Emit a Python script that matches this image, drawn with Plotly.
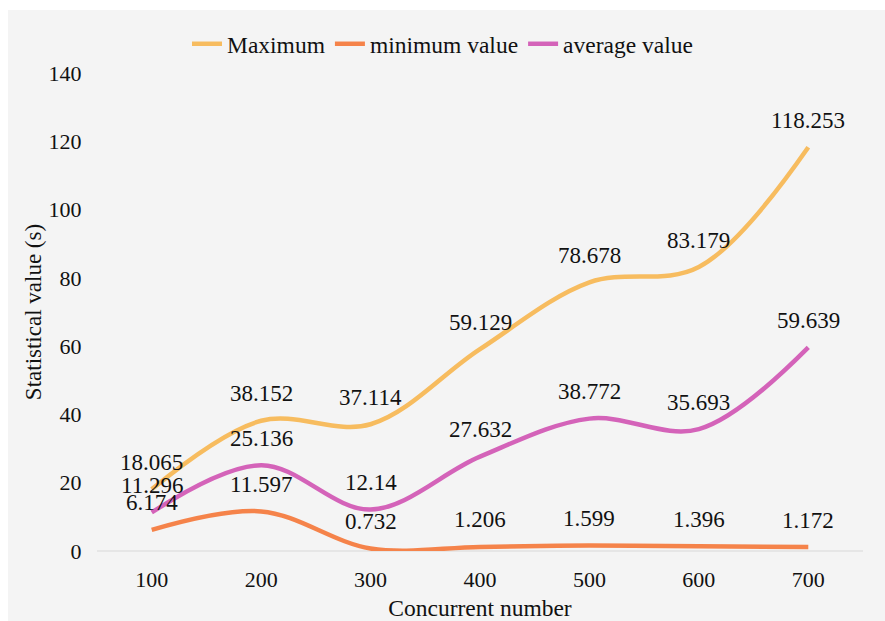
import plotly.graph_objects as go

categories = ["100", "200", "300", "400", "500", "600", "700"]
maximum = [18.065, 38.152, 37.114, 59.129, 78.678, 83.179, 118.253]
minimum = [6.174, 11.597, 0.732, 1.206, 1.599, 1.396, 1.172]
average = [11.296, 25.136, 12.14, 27.632, 38.772, 35.693, 59.639]

series = [
    ("Maximum", maximum, "#F7BC5F"),
    ("minimum value", minimum, "#F5834A"),
    ("average value", average, "#D463B9"),
]

FONT = "Liberation Serif"

fig = go.Figure()
for name, vals, color in series:
    fig.add_trace(go.Scatter(
        x=categories, y=vals, name=name, mode="lines",
        line=dict(color=color, width=4.5, shape="spline", smoothing=1.0),
    ))

annotations = []
for name, vals, color in series:
    for i, v in enumerate(vals):
        annotations.append(dict(
            x=i, y=v, xref="x", yref="y", text=f"{v:g}", showarrow=False, yshift=27,
            yanchor="middle", xanchor="center",
            font=dict(family=FONT, size=23, color="#111111"),
        ))

W, H = 885, 621
ml, mr, mt, mb = 97, 22, 73, 70
pw, ph = W - ml - mr, H - mt - mb

fig.update_layout(
    width=W, height=H,
    margin=dict(l=ml, r=mr, t=mt, b=mb, autoexpand=False),
    paper_bgcolor="white",
    plot_bgcolor="rgba(0,0,0,0)",
    font=dict(family=FONT, size=22, color="#111111"),
    showlegend=True,
    legend=dict(orientation="h", x=0.5, xanchor="center", xref="container",
                y=1 - 44 / H, yref="container",
                yanchor="middle", font=dict(family=FONT, size=23.5, color="#111111"),
                bgcolor="rgba(0,0,0,0)", itemwidth=30, tracegroupgap=0),
    annotations=annotations,
    shapes=[dict(type="rect", xref="paper", yref="paper", layer="below",
                 x0=(8 - ml) / pw, x1=1 + (mr + 5) / pw,
                 y0=-(mb + 5) / ph, y1=1 + (mt - 10) / ph,
                 fillcolor="#F4F4F4", line=dict(width=0))],
    xaxis=dict(
        type="category", showgrid=False, zeroline=False, showline=False,
        ticks="outside", ticklen=9, tickcolor="rgba(0,0,0,0)",
        tickfont=dict(family=FONT, size=22),
        title=dict(text="Concurrent number", font=dict(family=FONT, size=23.5), standoff=16),
        range=[-0.5, 6.5],
    ),
    yaxis=dict(
        range=[0, 140], dtick=20, showgrid=False, showline=False,
        ticks="outside", ticklen=10, tickcolor="rgba(0,0,0,0)",
        zeroline=True, zerolinecolor="#E6E6E6", zerolinewidth=2,
        tickfont=dict(family=FONT, size=22),
        title=dict(text="Statistical value (s)", font=dict(family=FONT, size=23), standoff=0),
    ),
)

fig.write_html("out.html", config={"displayModeBar": False},
               post_script="document.body.style.margin='0';")
